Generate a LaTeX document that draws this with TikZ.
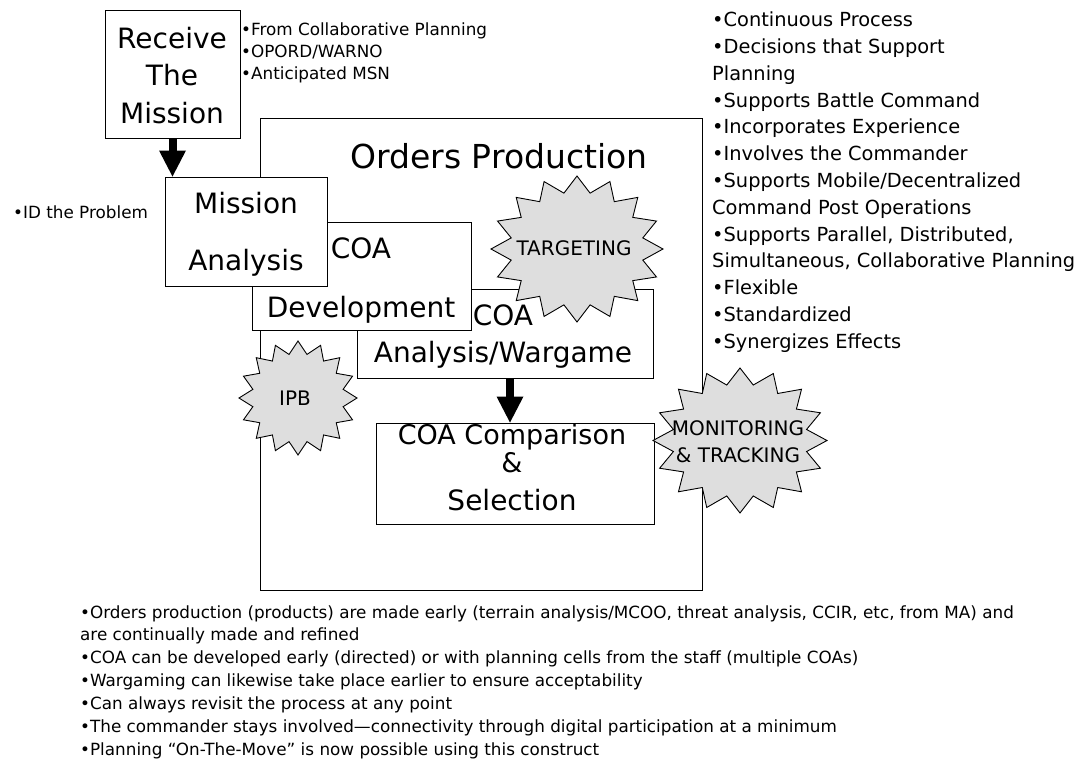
\documentclass[tikz,border=0pt]{standalone}
\usepackage{fontspec}
\setmainfont{DejaVu Sans}
\usetikzlibrary{arrows.meta}
\begin{document}
\begin{tikzpicture}[x=1pt,y=-1pt,
  box/.style={draw=black, line width=1pt, fill=white, inner sep=0pt, rectangle},
  lbl/.style={inner sep=0pt, anchor=base, font=\fontsize{28}{34}\selectfont},
  titlelbl/.style={inner sep=0pt, anchor=base, font=\fontsize{33}{40}\selectfont},
  smalltxt/.style={inner sep=0pt, anchor=base west, font=\fontsize{16.8}{20}\selectfont},
  rtxt/.style={inner sep=0pt, anchor=base west, font=\fontsize{19.4}{24}\selectfont},
  burststyle/.style={draw=black, line width=0.9pt, fill=black!13},
  starlbl/.style={inner sep=0pt, align=center, font=\fontsize{20}{27}\selectfont},
  bigarrow/.style={line width=8pt, -{Triangle[width=27pt,length=26pt,line width=0pt]}},
  pics/burst/.style 2 args={code={
    \filldraw[burststyle] (90:#1 and #2)
      \foreach \i in {1,...,31}{ -- ({90+11.25*\i}:{(isodd(\i) ? 0.78 : 1)*#1} and {(isodd(\i) ? 0.78 : 1)*#2}) } -- cycle;
  }}
]
\useasboundingbox (0,0) rectangle (1088,761);
\fill[white] (0,0) rectangle (1088,761);

% Orders Production frame
\node[box, minimum width=442pt, minimum height=472pt] (op) at (481,354) {};
\node[titlelbl] (optitle) at (499,168) {Orders Production};

% process boxes (later ones on top)
\node[box, minimum width=278pt, minimum height=101pt] (cmp) at (515,473.5) {};
\node[box, minimum width=296pt, minimum height=89pt] (an) at (505,333.5) {};
\node[box, minimum width=219pt, minimum height=108pt] (dev) at (361.5,276) {};
\node[box, minimum width=162pt, minimum height=109pt] (ma) at (246,231.5) {};
\node[box, minimum width=135pt, minimum height=128pt] (rm) at (172.5,74) {};

% box labels
\node[lbl] (rm1) at (172,48) {Receive};
\node[lbl] (rm2) at (172,85) {The};
\node[lbl] (rm3) at (172,123) {Mission};
\node[lbl] (ma1) at (246,213) {Mission};
\node[lbl] (ma2) at (246,270) {Analysis};
\node[lbl] (dev1) at (361,258) {COA};
\node[lbl] (dev2) at (361,317) {Development};
\node[lbl] (an1) at (503,325) {COA};
\node[lbl] (an2) at (503,362) {Analysis/Wargame};
\node[lbl, font=\fontsize{27}{32}\selectfont] (cmp1) at (512,444) {COA Comparison};
\node[lbl, font=\fontsize{27}{32}\selectfont] (cmp2) at (512,472) {\&};
\node[lbl] (cmp3) at (512,510) {Selection};

% bursts
\pic at (577,249) {burst={86}{73}};
\node[starlbl] (tg) at (574,248) {TARGETING};
\pic at (298,398) {burst={59}{57}};
\node[starlbl] (ipb) at (295,398) {IPB};
\pic at (740,440.5) {burst={87}{72.5}};
\node[starlbl] (mon) at (738,441.5) {MONITORING\\\& TRACKING};

% arrows
\draw[bigarrow] (rm.south) -- (rm.south |- ma.north);
\draw[bigarrow] ([xshift=5pt]an.south) -- ([xshift=5pt]an.south |- cmp.north);

% top-left notes
\node[smalltxt] (n1) at (241,35) {•From Collaborative Planning};
\node[smalltxt] (n2) at (241,57) {•OPORD/WARNO};
\node[smalltxt] (n3) at (241,79) {•Anticipated MSN};
\node[smalltxt] (n4) at (13,218) {•ID the Problem};

% right notes
\foreach \t [count=\i from 0] in {
  {•Continuous Process},
  {•Decisions that Support},
  {Planning},
  {•Supports Battle Command},
  {•Incorporates Experience},
  {•Involves the Commander},
  {•Supports Mobile/Decentralized},
  {Command Post Operations},
  {•Supports Parallel, Distributed,},
  {Simultaneous, Collaborative Planning},
  {•Flexible},
  {•Standardized},
  {•Synergizes Effects}}
  \node[rtxt] (r\i) at (712,{26.7+26.8*\i}) {\t};

% bottom notes
\foreach \t [count=\i from 0] in {
  {•Orders production (products) are made early (terrain analysis/MCOO, threat analysis, CCIR, etc, from MA) and},
  {are continually made and refined},
  {•COA can be developed early (directed) or with planning cells from the staff (multiple COAs)},
  {•Wargaming can likewise take place earlier to ensure acceptability},
  {•Can always revisit the process at any point},
  {•The commander stays involved—connectivity through digital participation at a minimum},
  {•Planning “On-The-Move” is now possible using this construct}}
  \node[smalltxt] (b\i) at (80,{618+22.9*\i}) {\t};
\end{tikzpicture}
\end{document}
